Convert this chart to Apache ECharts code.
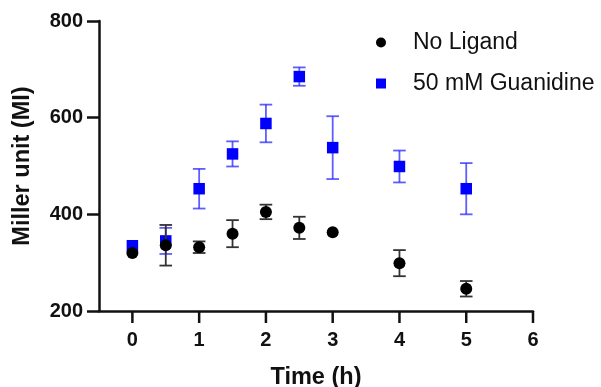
<!DOCTYPE html>
<html>
<head>
<meta charset="utf-8">
<script src="https://cdn.jsdelivr.net/npm/echarts@6/dist/echarts.min.js"></script>
<style>
  html, body { margin: 0; padding: 0; background: #fff; }
  #chart { width: 601px; height: 387px; }
</style>
</head>
<body>
<div id="chart"></div>
<script>
const times = [0, 0.5, 1, 1.5, 2, 2.5, 3, 4, 5];
const xTicks = [0, 1, 2, 3, 4, 5, 6];
const yTicks = [200, 400, 600, 800];
const noLigand = [320, 336, 332, 360, 405, 372, 363, 299, 246];
const noLigandErr = [0, 42, 12, 28, 15, 23, 0, 27, 16];
const guanidine = [335, 345, 453, 525, 588, 685, 538, 499, 453];
const guanidineErr = [0, 27, 41, 26, 39, 19, 65, 33, 53];

const font = "'Liberation Sans', Arial, sans-serif";
const axisColor = '#111';
const tickFont = { fontSize: 20, fontWeight: 'bold', color: axisColor, fontFamily: font };
const titleFont = { fontSize: 23.5, fontWeight: 'bold', color: axisColor, fontFamily: font };

function points(ys) {
  return times.map((t, i) => [t, ys[i]]);
}
function bars(ys, errs) {
  return times.map((t, i) => [t, ys[i] - errs[i], ys[i] + errs[i]]);
}

function errorBar(color) {
  return function (params, api) {
    const lo = api.value(1), hi = api.value(2);
    if (hi - lo <= 0) return null;
    const top = api.coord([api.value(0), hi]);
    const bot = api.coord([api.value(0), lo]);
    const half = 6.3;
    const style = { stroke: color, lineWidth: 1.8 };
    return {
      type: 'group',
      children: [
        { type: 'line', shape: { x1: top[0], y1: top[1], x2: bot[0], y2: bot[1] }, style },
        { type: 'line', shape: { x1: top[0] - half, y1: top[1], x2: top[0] + half, y2: top[1] }, style },
        { type: 'line', shape: { x1: bot[0] - half, y1: bot[1], x2: bot[0] + half, y2: bot[1] }, style }
      ]
    };
  };
}

// x ticks drawn at the tick values, hanging below the axis line
function xTick(params, api) {
  const p = api.coord([api.value(0), api.value(1)]);
  return {
    type: 'rect',
    shape: { x: p[0] - 1.25, y: p[1], width: 2.5, height: 12 },
    style: { fill: axisColor }
  };
}

const chart = echarts.init(document.getElementById('chart'));

chart.setOption({
  animation: false,
  textStyle: { fontFamily: font },
  grid: { left: 99, right: 68, top: 21, bottom: 76, outerBoundsMode: 'none' },
  legend: {
    orient: 'vertical',
    left: 376,
    top: 31,
    padding: 0,
    itemWidth: 10,
    itemHeight: 10,
    itemGap: 18,
    textStyle: { fontSize: 23, color: '#111', lineHeight: 23, padding: [0, 0, 0, 22], fontFamily: font },
    data: [
      { name: 'No Ligand', icon: 'circle', itemStyle: { color: '#000' } },
      { name: '50 mM Guanidine', icon: 'rect', itemStyle: { color: '#0000ff' } }
    ]
  },
  xAxis: {
    type: 'value',
    min: -0.5,
    max: 6,
    name: 'Time (h)',
    nameLocation: 'middle',
    nameGap: 55,
    nameTextStyle: titleFont,
    axisLine: { show: true, onZero: false, lineStyle: { color: axisColor, width: 2.5 } },
    axisTick: { show: false },
    axisLabel: Object.assign({ customValues: xTicks, margin: 19 }, tickFont),
    splitLine: { show: false }
  },
  yAxis: {
    type: 'value',
    min: yTicks[0],
    max: yTicks[yTicks.length - 1],
    interval: 200,
    name: 'Miller unit (MI)',
    nameLocation: 'middle',
    nameRotate: 90,
    nameGap: 64,
    nameTextStyle: titleFont,
    axisLine: { show: true, onZero: false, lineStyle: { color: axisColor, width: 2.5 } },
    axisTick: { show: true, length: 12, lineStyle: { color: axisColor, width: 2.5 } },
    axisLabel: Object.assign({ margin: 16 }, tickFont),
    splitLine: { show: false }
  },
  series: [
    {
      type: 'custom',
      clip: false,
      silent: true,
      renderItem: xTick,
      data: xTicks.map(v => [v, yTicks[0]]),
      z: 10
    },
    {
      type: 'custom',
      renderItem: errorBar('rgba(40,40,255,0.75)'),
      data: bars(guanidine, guanidineErr),
      z: 2
    },
    {
      name: '50 mM Guanidine',
      type: 'scatter',
      symbol: 'rect',
      symbolSize: 11.5,
      itemStyle: { color: '#0000ff', opacity: 1 },
      data: points(guanidine),
      z: 3
    },
    {
      type: 'custom',
      renderItem: errorBar('#333'),
      data: bars(noLigand, noLigandErr),
      z: 4
    },
    {
      name: 'No Ligand',
      type: 'scatter',
      symbol: 'circle',
      symbolSize: 12,
      itemStyle: { color: '#000', opacity: 1 },
      data: points(noLigand),
      z: 5
    }
  ]
});
</script>
</body>
</html>
